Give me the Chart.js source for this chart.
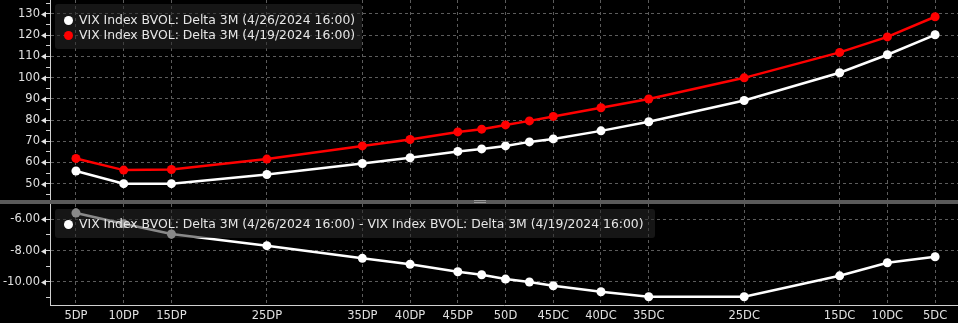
<!DOCTYPE html>
<html>
<head>
<meta charset="utf-8">
<script src="https://cdn.jsdelivr.net/npm/chart.js@4.4.1/dist/chart.umd.min.js"></script>
<style>
  html, body { margin: 0; padding: 0; background: #000; }
  body { width: 958px; height: 323px; position: relative; overflow: hidden; font-family: "DejaVu Sans", sans-serif; }
  .pane { position: absolute; left: 0; width: 958px; }
  #topPane { top: 0; height: 200px; }
  #botPane { top: 204px; height: 119px; }
  canvas { display: block; }
  .divider { position: absolute; left: 0; top: 200px; width: 958px; height: 4px; background: #5a5a5a; }
  .grip { position: absolute; left: 474px; top: 200px; width: 12px; height: 3px; border-top: 1px solid #9a9a9a; border-bottom: 1px solid #9a9a9a; box-sizing: border-box; }
  .legend { position: absolute; left: 55px; background: rgba(40,40,40,0.55); border-radius: 3px; color: #e6e6e6; font-size: 12.4px; padding: 5px 8px 5px 9px; box-sizing: border-box; }
  .legend div { height: 15px; line-height: 15px; white-space: nowrap; }
  .dot { display: inline-block; width: 9px; height: 9px; border-radius: 50%; margin-right: 6px; vertical-align: -1px; }
</style>
</head>
<body>
<div class="pane" id="topPane"><canvas id="topChart" width="958" height="200"></canvas></div>
<div class="divider"></div>
<div class="grip"></div>
<div class="pane" id="botPane"><canvas id="botChart" width="958" height="119"></canvas></div>

<div class="legend" id="topLegend" style="top:4px; width:307px; height:45px; padding-top:8px;"></div>
<div class="legend" id="botLegend" style="top:209px; width:600px; height:29px; padding-top:7px;"></div>

<script>
// delta position on a 0..100 line, puts run from left of 50D, calls to the right
const deltaPos = [5, 10, 15, 25, 35, 40, 45, 47.5, 50, 52.5, 55, 60, 65, 75, 85, 90, 95];

const vol0426 = [56.0, 50.0, 50.0, 54.3, 59.5, 62.2, 65.2, 66.4, 67.8, 69.7, 71.1, 74.9, 79.2, 89.2, 102.3, 110.8, 120.2];
const vol0419 = [61.9, 56.4, 56.7, 61.6, 67.8, 70.8, 74.4, 75.7, 77.7, 79.6, 81.7, 85.8, 89.9, 99.9, 111.9, 119.2, 128.7];
const volDiff = [-5.6, -6.28, -6.94, -7.69, -8.5, -8.88, -9.36, -9.55, -9.83, -10.02, -10.26, -10.64, -10.96, -10.96, -9.62, -8.78, -8.4];

const tickValues = [5, 10, 15, 25, 35, 40, 45, 50, 55, 60, 65, 75, 85, 90, 95];
const tickLabels = ['5DP', '10DP', '15DP', '25DP', '35DP', '40DP', '45DP', '50D', '45DC', '40DC', '35DC', '25DC', '15DC', '10DC', '5DC'];

const label0426 = 'VIX Index BVOL: Delta 3M (4/26/2024 16:00)';
const label0419 = 'VIX Index BVOL: Delta 3M (4/19/2024 16:00)';
const labelDiff = label0426 + ' - ' + label0419;

const GRID = '#5c5c5c';
const AXIS = '#d0d0d0';
const TXT = '#e0e0e0';
const FONT = { family: 'DejaVu Sans', size: 11.5 };

function pts(ys) {
    return deltaPos.map((x, i) => ({ x: x, y: ys[i] }));
}

function noPad(s) {
    s.paddingTop = 0;
    s.paddingBottom = 0;
    s.paddingLeft = 0;
    s.paddingRight = 0;
}

// little left-pointing arrows next to each labelled y tick
const yArrows = {
    id: 'yArrows',
    afterDraw(chart) {
        const y = chart.scales.y;
        const ctx = chart.ctx;
        ctx.save();
        ctx.fillStyle = TXT;
        y.ticks.forEach((t) => {
            if (!t.label) return;
            const py = Math.round(y.getPixelForValue(t.value)) + 0.5;
            ctx.beginPath();
            ctx.moveTo(41, py);
            ctx.lineTo(46, py - 3);
            ctx.lineTo(46, py + 3);
            ctx.closePath();
            ctx.fill();
        });
        ctx.restore();
    }
};

function xScale(showLabels) {
    return {
        type: 'linear',
        min: 2.28,
        max: 97.4,
        afterBuildTicks: (s) => { s.ticks = tickValues.map(v => ({ value: v })); },
        afterFit: (s) => { s.height = showLabels ? 18 : 0; noPad(s); },
        ticks: {
            display: showLabels,
            color: TXT,
            font: FONT,
            padding: 4,
            maxRotation: 0,
            autoSkip: false,
            callback: (v) => tickLabels[tickValues.indexOf(v)]
        },
        grid: { color: GRID, lineWidth: 1, drawTicks: false },
        border: { display: showLabels, color: AXIS, width: 1, dash: [3, 3] }
    };
}

function yScale(min, max, step, isMajor, fmt) {
    return {
        min: min,
        max: max,
        afterBuildTicks: (s) => {
            const t = [];
            for (let v = Math.ceil(min / step) * step; v <= max; v += step) t.push({ value: +v.toFixed(4) });
            s.ticks = t;
        },
        afterFit: (s) => { s.width = 50; noPad(s); },
        ticks: {
            color: TXT,
            font: FONT,
            padding: 6,
            autoSkip: false,
            callback: (v) => isMajor(v) ? fmt(v) : ''
        },
        grid: {
            color: (c) => (c.tick && isMajor(c.tick.value)) ? GRID : 'rgba(0,0,0,0)',
            tickColor: AXIS,
            tickLength: 4,
            lineWidth: 1
        },
        border: { color: AXIS, width: 1, dash: [3, 3] }
    };
}

function lineSet(label, ys, color) {
    return {
        label: label,
        data: pts(ys),
        borderColor: color,
        backgroundColor: color,
        pointBackgroundColor: color,
        pointBorderColor: color,
        borderWidth: 2.5,
        pointRadius: 4.5,
        pointBorderWidth: 0,
        tension: 0,
        clip: false
    };
}

const common = {
    responsive: false,
    animation: false,
    events: [],
    layout: { padding: 0, autoPadding: false },
    plugins: { legend: { display: false }, tooltip: { enabled: false } }
};

new Chart(document.getElementById('topChart'), {
    type: 'line',
    data: {
        datasets: [
            lineSet(label0426, vol0426, '#ffffff'),
            lineSet(label0419, vol0419, '#ff0000')
        ]
    },
    options: Object.assign({}, common, {
        scales: {
            x: xScale(false),
            y: yScale(42.3, 136.6, 5, (v) => v % 10 === 0, (v) => String(v))
        }
    }),
    plugins: [yArrows]
});

new Chart(document.getElementById('botChart'), {
    type: 'line',
    data: {
        datasets: [lineSet(labelDiff, volDiff, '#ffffff')]
    },
    options: Object.assign({}, common, {
        scales: {
            x: xScale(true),
            y: yScale(-11.49, -5.02, 1, (v) => Math.abs(v) % 2 === 0, (v) => v.toFixed(2))
        }
    }),
    plugins: [yArrows]
});

function legendRow(color, text) {
    return '<div><span class="dot" style="background:' + color + '"></span>' + text + '</div>';
}
document.getElementById('topLegend').innerHTML = legendRow('#ffffff', label0426) + legendRow('#ff0000', label0419);
document.getElementById('botLegend').innerHTML = legendRow('#ffffff', labelDiff);
</script>
</body>
</html>
